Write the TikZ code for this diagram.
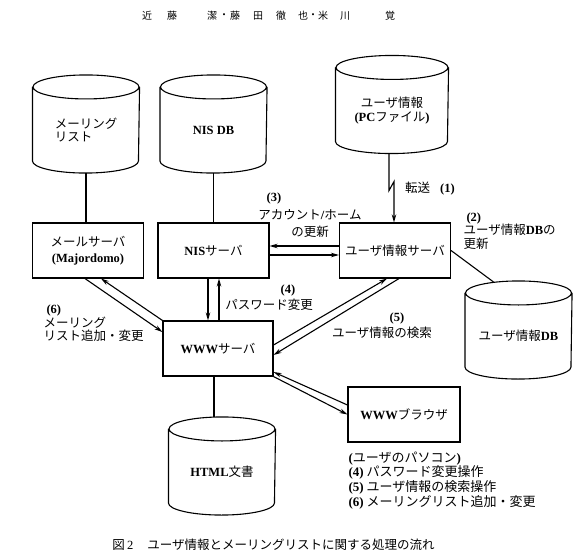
\documentclass[tikz,border=0pt]{standalone}
\usepackage{fontspec}
\setmainfont{Liberation Serif}
\newfontfamily\jp{Noto Sans CJK JP}
\usetikzlibrary{arrows.meta}
\newcommand\en[1]{{\rmfamily\bfseries #1}}

\begin{document}
\begin{tikzpicture}[x=1pt, y=-1pt, line width=1.1pt,
  font=\jp\fontsize{12.5}{13.5}\selectfont,
  box/.style={draw, minimum width=111pt, minimum height=55pt, align=center},
  db/.style={minimum width=106pt, minimum height=85pt, align=center},
  arr/.style={-{Stealth[length=8pt,width=4.5pt]}},
  lbl/.style={inner sep=0pt, align=center}]

\useasboundingbox (0,0) rectangle (580,559);

% header
\foreach \c/\x in {近/147, 藤/172, 潔/212, ・/224, 藤/235, 田/258, 徹/281, 也/303, ・/313, 米/323, 川/345, 覚/390}
  \node[font=\jp\fontsize{10}{12}\selectfont] (hd\x) at (\x,16) {\c};

% databases
\node[db, align=left] (ml) at (86,130) {メーリング\\リスト};
\node[db] (nisdb) at (213.5,130) {\en{NIS DB}};
\node[db, minimum width=112pt] (pc) at (392,110.5) {ユーザ情報\\\en{(PC}ファイル\en{)}};
\node[db] (udb) at (518.5,336) {ユーザ情報\en{DB}};
\node[db] (html) at (222,472) {\en{HTML}文書};

\foreach \n/\r in {ml/53, nisdb/53, pc/56, udb/53, html/53}
  \draw (\n.north) ellipse [x radius=\r pt, y radius=12pt]
        (\n.north west) -- ([yshift=12pt]\n.south west)
        arc [start angle=180, end angle=360, x radius=\r pt, y radius=12pt]
        -- (\n.north east);

% servers
\node[box] (mail) at (88,250.5) {メールサーバ\\[3pt]\en{(Majordomo)}};
\node[box] (nis) at (213.5,250.5) {\en{NIS}サーバ};
\node[box] (user) at (395,250.5) {ユーザ情報サーバ};
\node[box, minimum width=110pt] (www) at (218,348.5) {\en{WWW}サーバ};
\node[box, minimum width=112pt] (brw) at (404,414.5) {\en{WWW}ブラウザ};

% connectors
\draw (ml.south) -- ([xshift=-2pt]mail.north);
\draw (nisdb.south) -- (nis.north);
\draw ([xshift=-4pt]www.south) -- ([xshift=-8pt,yshift=12pt]html.north);
\draw (user.east) -- ([xshift=-25pt,yshift=11pt]udb.north);

\draw[arr] ([xshift=-3pt]pc.south) -- ++(0,37) -- ++(5,-9) -- ([xshift=-1pt]user.north);

\draw[arr] ([yshift=4.5pt]user.west) -- ([yshift=4.5pt]nis.east);
\draw[arr] ([yshift=-4.5pt]nis.east) -- ([yshift=-4.5pt]user.west);

\draw[arr] ([xshift=-5.5pt]nis.south) -- ([xshift=-10pt]www.north);
\draw[arr] ([xshift=1pt]www.north) -- ([xshift=5.5pt]nis.south);

\draw[arr] ([xshift=-3pt]mail.south) -- ([yshift=16.5pt]www.west);
\draw[arr] (www.north west) -- ([xshift=13pt]mail.south);

\draw[arr] ([yshift=3.5pt]www.east) -- ([xshift=-8pt]user.south);
\draw[arr] ([xshift=4pt]user.south) -- ([yshift=-6.5pt]www.east);

\draw[arr] ([yshift=9.5pt]brw.west) -- ([yshift=-23.5pt]www.east);
\draw[arr] (www.south east) -- (brw.west);

% labels
\node[lbl] (n3) at (274,198) {\en{(3)}};
\node[lbl] (t3) at (310,223.5) {アカウント\en{/}ホーム\\[3pt]の更新};
\node[lbl] (t1) at (430,189) {転送\hspace{10pt}\en{(1)}};
\node[lbl, align=left, anchor=west] (t2) at (463,231) {\hspace{3pt}\en{(2)}\\ユーザ情報\en{DB}の\\更新};
\node[lbl] (n4) at (288,290) {\en{(4)}};
\node[lbl] (t4) at (269,305) {パスワード変更};
\node[lbl, align=left, anchor=west] (t6) at (43,323.5) {\hspace{3pt}\en{(6)}\\メーリング\\リスト追加・変更};
\node[lbl] (n5) at (397,318) {\en{(5)}};
\node[lbl] (t5) at (382,333) {ユーザ情報の検索};
\node[lbl, align=left, anchor=north west,
  font=\jp\fontsize{13}{13}\selectfont] (note) at (348,451)
  {\en{(}ユーザのパソコン\en{)}\\
   \en{(4)} パスワード変更操作\\
   \en{(5)} ユーザ情報の検索操作\\
   \en{(6)} メーリングリスト追加・変更};

% caption
\node (cap) at (273.5,545) {図\,{\rmfamily 2}\hspace{14pt}ユーザ情報とメーリングリストに関する処理の流れ};
\end{tikzpicture}
\end{document}
